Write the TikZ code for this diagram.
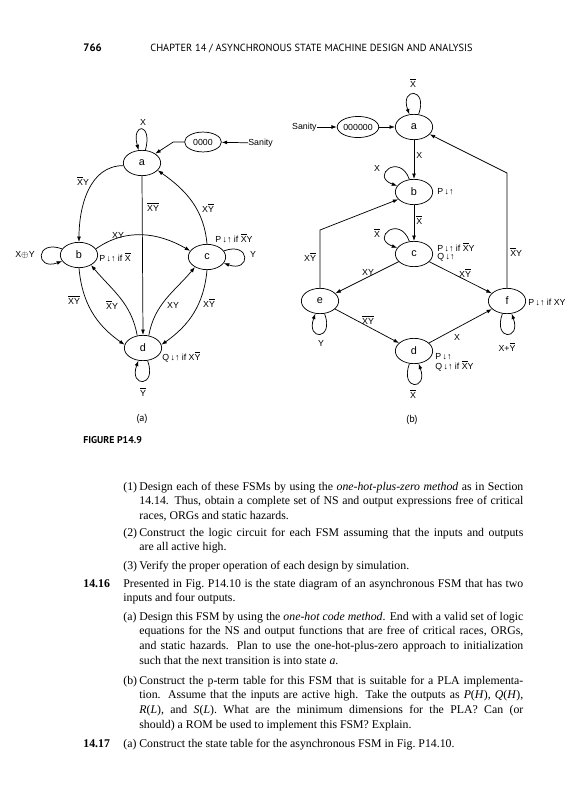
\documentclass[tikz,border=0pt]{standalone}
\usepackage{fontspec}
\setmainfont{Liberation Serif}
\newfontfamily\lblfont{Liberation Sans}
\newfontfamily\headfont{PT Sans}
\usetikzlibrary{arrows.meta,shapes.geometric}

\newcommand{\nt}[1]{$\overline{\mbox{#1}}$}
\newcommand{\ud}{\,↓↑}
\newcommand{\bodyfont}{\fontsize{9.8}{12.2}\selectfont\hyphenpenalty=10000 \exhyphenpenalty=10000 \relax}

\begin{document}
\begin{tikzpicture}[x=0.83pt,y=0.83pt,line width=0.6pt,>={Latex[length=4.5pt,width=3.2pt]},
  st/.style={ellipse,draw,minimum width=31pt,minimum height=21pt,inner sep=0pt,font=\lblfont\fontsize{9}{10}\selectfont},
  lbl/.style={font=\lblfont\fontsize{7.3}{8}\selectfont,inner sep=0pt},
  lp/.style={looseness=1,min distance=24pt},
  txt/.style={font=\bodyfont,inner sep=0pt,anchor=base west},
  para/.style={txt,text width=318.7pt,align=justify},
  wpara/.style={txt,text width=332pt,align=justify}]
  \path[use as bounding box,fill=white] (0,0) rectangle (587,-800);
  % page head
  \node[anchor=base west,inner sep=0pt,font=\headfont\bfseries\fontsize{9}{10}\selectfont] (pg) at (83,-52) {766};
  \node[anchor=base west,inner sep=0pt,font=\headfont\fontsize{8.6}{10}\selectfont] (hd) at (150,-52) {CHAPTER 14 / ASYNCHRONOUS STATE MACHINE DESIGN AND ANALYSIS};

  % FSM (a)
  \node[st] (a1) at (142,-163) {a};
  \node[st,minimum width=30.5pt,minimum height=16.5pt,font=\lblfont\fontsize{7.3}{8}\selectfont] (z1) at (203,-142) {0000};
  \node[lbl,anchor=west] (s1) at (248,-143) {Sanity};
  \node[st] (b1) at (79,-255) {b};
  \node[st] (c1) at (207,-257) {c};
  \node[st] (d1) at (143,-348) {d};
  \draw[->] (s1) -- (z1);
  \draw[->] (z1.west) -- ++(-11,0) -- (a1.35);
  \draw[->] (a1) to[out=75,in=105,lp] (a1);
  \draw[->] (a1.188) to[out=180,in=90] (b1.north);
  \draw[->] (a1.south) -- (d1.north);
  \draw[->] (c1.north) to[out=95,in=-35] (a1.-25);
  \draw[->] (b1.20) to[out=35,in=150] (c1.160);
  \draw[->] (b1) to[out=160,in=200,lp] (b1);
  \draw[->] (c1) to[out=20,in=-20,lp] (c1);
  \draw[->] (b1.south) to[out=-85,in=145] (d1.170);
  \draw[->] (d1.115) to[out=100,in=-50] (b1.-40);
  \draw[->] (d1.65) to[out=80,in=-130] (c1.-140);
  \draw[->] (c1.south) to[out=-95,in=35] (d1.10);
  \draw[->] (d1) to[out=-70,in=-110,lp] (d1);
  \node[lbl] (l1) at (143,-122) {X};
  \node[lbl] (l2) at (83,-181) {\nt{X}Y};
  \node[lbl] (l3) at (153,-207) {\nt{X}\nt{Y}};
  \node[lbl] (l4) at (208,-208) {X\nt{Y}};
  \node[lbl,anchor=west] (l5) at (215,-238) {P\ud{} if \nt{X}Y};
  \node[lbl] (l6) at (118,-235) {XY};
  \node[lbl,anchor=west] (l7) at (99,-257) {P\ud{} if \nt{X}};
  \node[lbl] (l8) at (25,-255) {X$\oplus$Y};
  \node[lbl] (l9) at (253,-254) {Y};
  \node[lbl] (l10) at (74,-300) {\nt{X}\nt{Y}};
  \node[lbl] (l11) at (112,-305) {\nt{X}Y};
  \node[lbl] (l12) at (173,-305) {XY};
  \node[lbl] (l13) at (209,-303) {X\nt{Y}};
  \node[lbl,anchor=west] (l14) at (162,-357) {Q\ud{} if X\nt{Y}};
  \node[lbl] (l15) at (143,-392) {\nt{Y}};
  \node[font=\headfont\fontsize{8.5}{10}\selectfont,inner sep=0pt] (capa) at (142,-419) {(a)};
  \node[anchor=base west,inner sep=0pt,font=\headfont\bfseries\fontsize{8.2}{10}\selectfont] (fig) at (83,-443) {FIGURE P14.9};

  % FSM (b)
  \node[st] (a2) at (414,-127) {a};
  \node[st,minimum width=32pt,minimum height=17.5pt,font=\lblfont\fontsize{7.3}{8}\selectfont] (z2) at (358,-127) {000000};
  \node[lbl,anchor=east] (s2) at (317,-127) {Sanity};
  \node[st] (b2) at (414,-192) {b};
  \node[st] (c2) at (414,-254) {c};
  \node[st] (e2) at (320,-301) {e};
  \node[st] (f2) at (507,-301) {f};
  \node[st] (d2) at (414,-351) {d};
  \coordinate (fa) at (507,-173);
  \coordinate (eb) at (320,-230);
  \draw[->] (s2) -- (z2);
  \draw[->] (z2) -- (a2);
  \draw[->] (a2) to[out=70,in=110,lp] (a2);
  \draw[->] (a2) -- (b2);
  \draw[->] (b2) to[out=110,in=160,lp] (b2);
  \draw[->] (b2) -- (c2);
  \draw[->] (c2) to[out=110,in=160,lp] (c2);
  \draw[->] (f2.north) -- (fa) -- (a2.-25);
  \draw[->] (e2.north) -- (eb) -- (b2.205);
  \draw[->] (c2) -- (e2);
  \draw[->] (c2) -- (f2);
  \draw[->] (e2) -- (d2);
  \draw[->] (d2) -- (f2);
  \draw[->] (e2) to[out=-70,in=-110,lp] (e2);
  \draw[->] (f2) to[out=-110,in=-70,lp] (f2);
  \draw[->] (d2) to[out=-110,in=-70,lp] (d2);
  \node[lbl] (m1) at (413,-83) {\nt{X}};
  \node[lbl,anchor=west] (m2) at (416,-155) {X};
  \node[lbl,anchor=west] (m3) at (437,-192) {P\ud};
  \node[lbl] (m4) at (377,-168) {X};
  \node[lbl,anchor=west] (m5) at (416,-220) {\nt{X}};
  \node[lbl] (m6) at (377,-233) {\nt{X}};
  \node[lbl,anchor=west] (m7) at (437,-247) {P\ud{} if \nt{X}Y};
  \node[lbl,anchor=west] (m8) at (437,-257) {Q\ud};
  \node[lbl,anchor=west] (m9) at (510,-252) {\nt{X}Y};
  \node[lbl] (m10) at (310,-257) {X\nt{Y}};
  \node[lbl] (m11) at (368,-272) {XY};
  \node[lbl] (m12) at (465,-273) {X\nt{Y}};
  \node[lbl,anchor=west] (m13) at (528,-302) {P\ud{} if XY};
  \node[lbl] (m14) at (321,-343) {Y};
  \node[lbl] (m15) at (507,-347) {X+\nt{Y}};
  \node[lbl] (m16) at (368,-320) {\nt{X}\nt{Y}};
  \node[lbl] (m17) at (457,-337) {X};
  \node[lbl,anchor=west] (m18) at (435,-357) {P\ud};
  \node[lbl,anchor=west] (m19) at (435,-366) {Q\ud{} if \nt{X}Y};
  \node[lbl] (m20) at (413,-394) {\nt{X}};
  \node[font=\headfont\fontsize{8.5}{10}\selectfont,inner sep=0pt] (capb) at (412,-420) {(b)};

  % problem text
  \node[txt] (n1) at (123,-490) {(1)};
  \node[para] (t1) at (139,-490) {Design each of these FSMs by using the \textit{one-hot-plus-zero method} as in Section\linebreak 14.14. Thus, obtain a complete set of NS and output expressions free of critical\linebreak races, ORGs and static hazards.};
  \node[txt] (n2) at (123,-536) {(2)};
  \node[para] (t2) at (139,-536) {Construct the logic circuit for each FSM assuming that the inputs and outputs\linebreak are all active high.};
  \node[txt] (n3) at (123,-569) {(3)};
  \node[para] (t3) at (139,-569) {Verify the proper operation of each design by simulation.};
  \node[txt,font=\bodyfont\bfseries] (n4) at (83,-587) {14.16};
  \node[wpara] (t4) at (123,-587) {Presented in Fig.~P14.10 is the state diagram of an asynchronous FSM that has two\linebreak inputs and four outputs.};
  \node[txt] (n5) at (123,-620) {(a)};
  \node[para] (t5) at (139,-620) {Design this FSM by using the \textit{one-hot code method}. End with a valid set of logic\linebreak equations for the NS and output functions that are free of critical races, ORGs,\linebreak and static hazards. Plan to use the one-hot-plus-zero approach to initialization\linebreak such that the next transition is into state \textit{a}.};
  \node[txt] (n6) at (123,-684) {(b)};
  \node[para] (t6) at (139,-684) {Construct the p-term table for this FSM that is suitable for a PLA implementa-\linebreak tion. Assume that the inputs are active high. Take the outputs as \textit{P}(\textit{H}), \textit{Q}(\textit{H}),\linebreak \textit{R}(\textit{L}), and \textit{S}(\textit{L}). What are the minimum dimensions for the PLA? Can (or\linebreak should) a ROM be used to implement this FSM? Explain.};
  \node[txt,font=\bodyfont\bfseries] (n7) at (83,-747) {14.17};
  \node[txt] (n8) at (123,-747) {(a)};
  \node[txt] (t7) at (139,-747) {Construct the state table for the asynchronous FSM in Fig.~P14.10.};
\end{tikzpicture}
\end{document}
